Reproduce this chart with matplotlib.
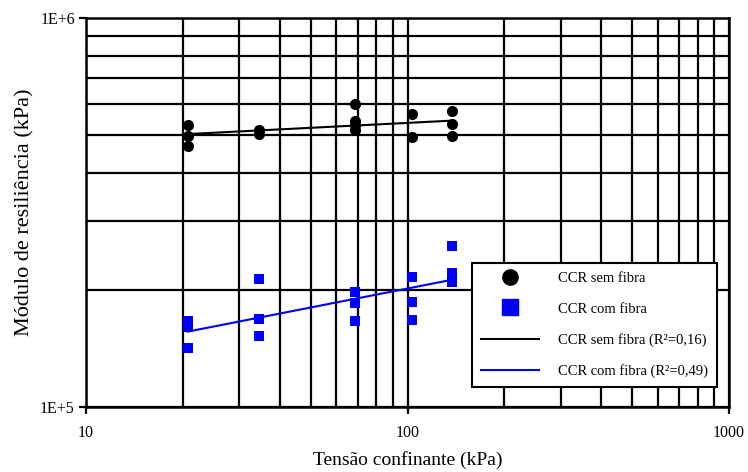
import numpy as np
import matplotlib.pyplot as plt
from matplotlib.ticker import LogLocator, NullFormatter, FixedLocator, FixedFormatter
from matplotlib.lines import Line2D

plt.rcParams['font.family'] = ['Liberation Serif', 'DejaVu Serif']

# tensão confinante (kPa) e módulo de resiliência (kPa)
sem_x = [20.7, 20.7, 20.7, 34.5, 34.5, 68.9, 68.9, 68.9, 68.9, 103.4, 103.4, 137.9, 137.9, 137.9]
sem_y = [5.31e5, 4.97e5, 4.69e5, 5.15e5, 5.03e5, 6.0e5, 5.45e5, 5.30e5, 5.15e5,
         5.66e5, 4.95e5, 5.78e5, 5.35e5, 4.98e5]

com_x = [20.7, 20.7, 20.7, 34.5, 34.5, 34.5, 68.9, 68.9, 68.9, 103.4, 103.4, 103.4, 137.9, 137.9, 137.9]
com_y = [1.664e5, 1.606e5, 1.418e5, 2.134e5, 1.684e5, 1.522e5, 1.975e5, 1.851e5, 1.664e5,
         2.159e5, 1.862e5, 1.674e5, 2.594e5, 2.211e5, 2.096e5]

legend_labels = ['CCR sem fibra', 'CCR com fibra',
                 'CCR sem fibra (R²=0,16)', 'CCR com fibra (R²=0,49)']


def power_fit(x, y):
    b, a = np.polyfit(np.log10(x), np.log10(y), 1)
    xs = np.linspace(min(x), max(x), 100)
    return xs, 10 ** a * xs ** b


fig = plt.figure(figsize=(7.48, 4.72), dpi=100)
ax = fig.add_axes([86 / 748, 1 - 407 / 472, (729 - 86) / 748, (407 - 18) / 472])

ax.set_xscale('log')
ax.set_yscale('log')
ax.set_xlim(10, 1000)
ax.set_ylim(1e5, 1e6)

ax.grid(True, which='both', color='black', linewidth=1.6)
ax.set_axisbelow(True)

ax.plot(sem_x, sem_y, 'o', color='black', markersize=7, zorder=3)
ax.plot(com_x, com_y, 's', color='#0000ff', markersize=7, markeredgewidth=0, zorder=3)

xs, ys = power_fit(sem_x, sem_y)
ax.plot(xs, ys, color='black', linewidth=1.5, zorder=4)
xs, ys = power_fit(com_x, com_y)
ax.plot(xs, ys, color='#0000ff', linewidth=1.5, zorder=4)

ax.yaxis.set_major_locator(FixedLocator([1e5, 1e6]))
ax.yaxis.set_major_formatter(FixedFormatter(['1E+5', '1E+6']))
ax.yaxis.set_minor_locator(LogLocator(base=10, subs=np.arange(2, 10)))
ax.yaxis.set_minor_formatter(NullFormatter())
ax.xaxis.set_major_locator(FixedLocator([10, 100, 1000]))
ax.xaxis.set_major_formatter(FixedFormatter(['10', '100', '1000']))
ax.xaxis.set_minor_locator(LogLocator(base=10, subs=np.arange(2, 10)))
ax.xaxis.set_minor_formatter(NullFormatter())
ax.tick_params(which='major', length=5, width=1.6, labelsize=11.5)
ax.tick_params(axis='x', which='major', pad=8)
ax.tick_params(axis='y', which='major', pad=3)
ax.tick_params(which='minor', length=0)

for s in ax.spines.values():
    s.set_linewidth(1.8)

ax.set_xlabel('Tensão confinante (kPa)', fontsize=14, labelpad=7)
ax.set_ylabel('Módulo de resiliência (kPa)', fontsize=16, labelpad=4)

handles = [
    Line2D([], [], linestyle='none', marker='o', color='black', markersize=11),
    Line2D([], [], linestyle='none', marker='s', color='#0000ff', markersize=12),
    Line2D([], [], color='black', linewidth=1.5),
    Line2D([], [], color='#0000ff', linewidth=1.5),
]
leg = ax.legend(handles, legend_labels, loc='lower right', bbox_to_anchor=(0.981, 0.051),
                fontsize=10.5, frameon=True, fancybox=False, edgecolor='black',
                handlelength=4.0, handletextpad=1.3, labelspacing=1.2, borderpad=0.6,
                borderaxespad=0)
leg.get_frame().set_linewidth(1.5)
leg.get_frame().set_alpha(1)

fig.savefig('out.png', dpi=100)
